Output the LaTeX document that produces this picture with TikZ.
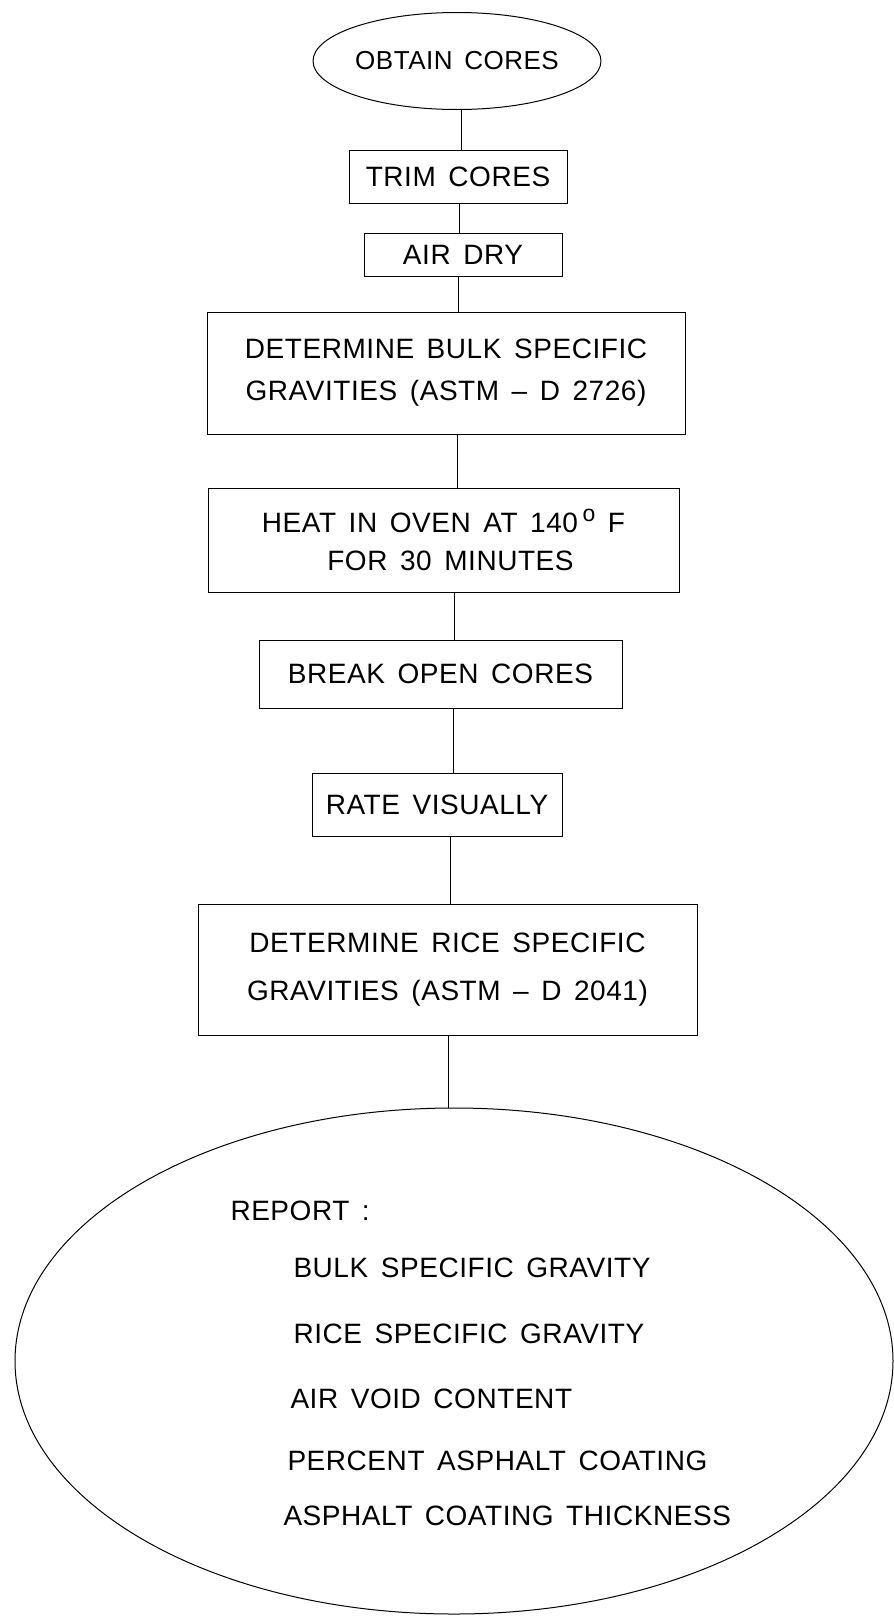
\documentclass[tikz,border=0pt]{standalone}
\usepackage{fontspec}
\setmainfont{Liberation Sans}[WordSpace=1.5,LetterSpace=2]
\usetikzlibrary{shapes.geometric}
\newcommand{\degsign}{\,\raisebox{11pt}{\fontsize{23}{23}\selectfont o}}
\begin{document}
\begin{tikzpicture}[x=1pt,y=-1pt,line width=1pt,
  box/.style={draw,rectangle,inner sep=0pt,align=center,font=\fontsize{28}{34}\selectfont},
  oval/.style={draw,ellipse,inner sep=0pt,align=center,font=\fontsize{26}{32}\selectfont},
  rep/.style={anchor=base west,inner sep=0pt,font=\fontsize{28}{34}\selectfont},
  link/.style={draw}]
\useasboundingbox (0,0) rectangle (894,1617);
\node[oval,minimum width=284,minimum height=97] (obtain) at (457,61) {OBTAIN CORES};
\node[box,minimum width=218,minimum height=53] (trim) at (458,176.5) {TRIM CORES};
\node[box,minimum width=198,minimum height=43] (air) at (463,254.5) {AIR DRY};
\node[box,minimum width=478,minimum height=122,font=\fontsize{28}{42}\selectfont] (bulk) at (446,373)
  {DETERMINE BULK SPECIFIC\\GRAVITIES (ASTM -- D 2726)};
\node[box,minimum width=471,minimum height=104,font=\fontsize{28}{38}\selectfont] (heat) at (443.5,540)
  {HEAT IN OVEN AT 140\degsign\ F\\\hspace*{14pt}FOR 30 MINUTES};
\node[box,minimum width=363,minimum height=68] (break) at (440.5,674) {BREAK OPEN CORES};
\node[box,minimum width=250,minimum height=63] (rate) at (437,804.5) {RATE VISUALLY};
\node[box,minimum width=499,minimum height=131,font=\fontsize{28}{48}\selectfont] (rice) at (447.5,969.5)
  {DETERMINE RICE SPECIFIC\\GRAVITIES (ASTM -- D 2041)};
\node[draw,ellipse,minimum width=878,minimum height=506,inner sep=0pt] (report) at (454,1361) {};
\node[rep] (r0) at (230,1220) {REPORT :};
\node[rep] (r1) at (293,1277) {BULK SPECIFIC GRAVITY};
\node[rep] (r2) at (293,1343) {RICE SPECIFIC GRAVITY};
\node[rep] (r3) at (290,1408) {AIR VOID CONTENT};
\node[rep] (r4) at (287,1470) {PERCENT ASPHALT COATING};
\node[rep] (r5) at (283,1525) {ASPHALT COATING THICKNESS};
\coordinate (c1) at (461,0);
\coordinate (c2) at (459,0);
\coordinate (c3) at (458,0);
\coordinate (c4) at (457,0);
\coordinate (c5) at (454,0);
\coordinate (c6) at (453,0);
\coordinate (c7) at (450,0);
\coordinate (c8) at (448,0);
\draw[link] (obtain.south -| c1) -- (trim.north -| c1);
\draw[link] (trim.south -| c2) -- (air.north -| c2);
\draw[link] (air.south -| c3) -- (bulk.north -| c3);
\draw[link] (bulk.south -| c4) -- (heat.north -| c4);
\draw[link] (heat.south -| c5) -- (break.north -| c5);
\draw[link] (break.south -| c6) -- (rate.north -| c6);
\draw[link] (rate.south -| c7) -- (rice.north -| c7);
\draw[link] (rice.south -| c8) -- (report.north -| c8);
\end{tikzpicture}
\end{document}
